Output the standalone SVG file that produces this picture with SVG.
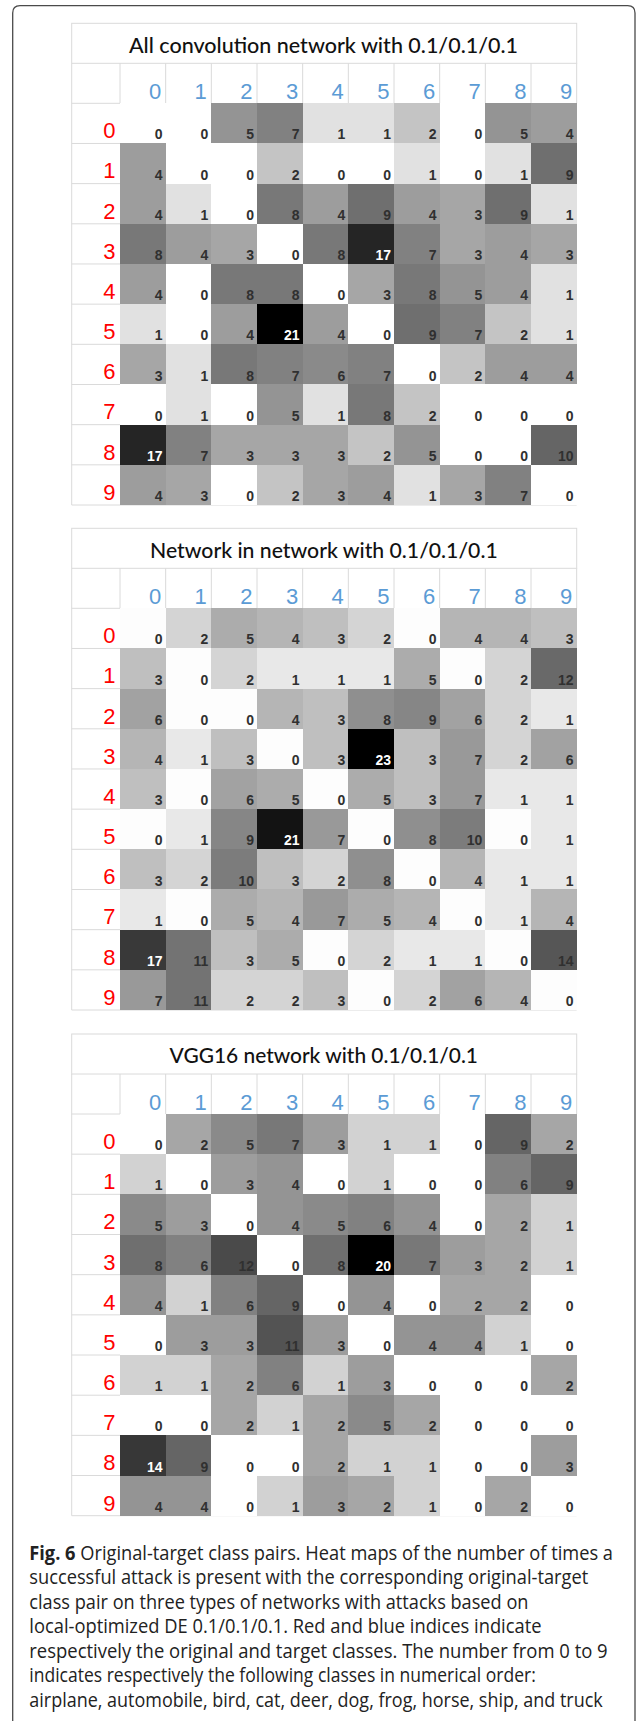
<svg xmlns="http://www.w3.org/2000/svg" width="637" height="1721" viewBox="0 0 637 1721">
<style>
.frame{fill:none;stroke:#4a4a4a;stroke-width:1.3}
.g{fill:none;stroke:#dadada;stroke-width:1}
.ttl{font-family:Lato,"Noto Sans",sans-serif;font-size:22px;font-weight:500;fill:#111}
.ch{font-family:"Liberation Sans",Arial,sans-serif;font-size:22px;fill:#5b9bd5;text-anchor:end}
.rh{font-family:"Liberation Sans",Arial,sans-serif;font-size:22px;fill:#ff0000;text-anchor:end}
.n rect{shape-rendering:crispEdges}
.n text{font-family:"Liberation Sans",Arial,sans-serif;font-size:14px;font-weight:bold;fill:#303030;text-anchor:end}
.n text.w{fill:#ffffff}
.cap{font-family:"Open Sans","Liberation Sans",sans-serif;font-size:20px;fill:#222}
.cap .b{font-weight:bold}
.t1 .v0{fill:#ffffff}.t1 .v1{fill:#e1e1e1}.t1 .v2{fill:#c4c4c4}.t1 .v3{fill:#a6a6a6}.t1 .v4{fill:#9d9d9d}.t1 .v5{fill:#949494}.t1 .v6{fill:#8a8a8a}.t1 .v7{fill:#818181}.t1 .v8{fill:#787878}.t1 .v9{fill:#6f6f6f}.t1 .v10{fill:#656565}.t1 .v17{fill:#252525}.t1 .v21{fill:#000000}
.t2 .v0{fill:#fdfdfd}.t2 .v1{fill:#e8e8e8}.t2 .v2{fill:#d4d4d4}.t2 .v3{fill:#bfbfbf}.t2 .v4{fill:#b5b5b5}.t2 .v5{fill:#acacac}.t2 .v6{fill:#a2a2a2}.t2 .v7{fill:#999999}.t2 .v8{fill:#8f8f8f}.t2 .v9{fill:#868686}.t2 .v10{fill:#7c7c7c}.t2 .v11{fill:#737373}.t2 .v12{fill:#696969}.t2 .v14{fill:#565656}.t2 .v17{fill:#393939}.t2 .v21{fill:#131313}.t2 .v23{fill:#000000}
.t3 .v0{fill:#ffffff}.t3 .v1{fill:#d2d2d2}.t3 .v2{fill:#a6a6a6}.t3 .v3{fill:#9d9d9d}.t3 .v4{fill:#949494}.t3 .v5{fill:#8a8a8a}.t3 .v6{fill:#818181}.t3 .v7{fill:#787878}.t3 .v8{fill:#6f6f6f}.t3 .v9{fill:#656565}.t3 .v11{fill:#535353}.t3 .v12{fill:#4a4a4a}.t3 .v14{fill:#373737}.t3 .v20{fill:#000000}
</style>
<rect width="637" height="1721" fill="#ffffff"/>
<path class="frame" d="M12.7 1730V13Q12.7 5.7 20 5.7H627.7Q635 5.7 635 13V1730"/>

<g id="table1" class="t1" transform="translate(0,23.3)">
<rect class="g" x="71.7" y="0" width="505" height="40"/>
<text class="ttl" x="129" y="30" textLength="389" lengthAdjust="spacingAndGlyphs">All convolution network with 0.1/0.1/0.1</text>
<path class="g" d="M71.7 40V481.7M120 40V80M165.67 40V80M211.33 40V80M257 40V80M302.67 40V80M348.33 40V80M394 40V80M439.67 40V80M485.33 40V80M531 40V80M576.67 40V80M71.7 80H120M71.7 120.17H120M71.7 160.34H120M71.7 200.51H120M71.7 240.68H120M71.7 280.85H120M71.7 321.02H120M71.7 361.19H120M71.7 401.36H120M71.7 441.53H120M71.7 481.7H576.67"/>
<g class="ch"><text x="161.2" y="75.7">0</text><text x="206.8" y="75.7">1</text><text x="252.5" y="75.7">2</text><text x="298.2" y="75.7">3</text><text x="343.8" y="75.7">4</text><text x="389.5" y="75.7">5</text><text x="435.2" y="75.7">6</text><text x="480.8" y="75.7">7</text><text x="526.5" y="75.7">8</text><text x="572.2" y="75.7">9</text></g>
<g class="rh"><text x="115.5" y="115">0</text><text x="115.5" y="155.17">1</text><text x="115.5" y="195.34">2</text><text x="115.5" y="235.51">3</text><text x="115.5" y="275.68">4</text><text x="115.5" y="315.85">5</text><text x="115.5" y="356.02">6</text><text x="115.5" y="396.19">7</text><text x="115.5" y="436.36">8</text><text x="115.5" y="476.53">9</text></g>
<g class="n">
<g transform="translate(0,80)"><rect class="v0" x="120" width="45.7" height="40.2"/><rect class="v0" x="165.67" width="45.7" height="40.2"/><rect class="v5" x="211.33" width="45.7" height="40.2"/><rect class="v7" x="257" width="45.7" height="40.2"/><rect class="v1" x="302.67" width="45.7" height="40.2"/><rect class="v1" x="348.33" width="45.7" height="40.2"/><rect class="v2" x="394" width="45.7" height="40.2"/><rect class="v0" x="439.67" width="45.7" height="40.2"/><rect class="v5" x="485.33" width="45.7" height="40.2"/><rect class="v4" x="531" width="45.7" height="40.2"/>
<text x="162.67" y="36.2">0</text><text x="208.33" y="36.2">0</text><text x="254" y="36.2">5</text><text x="299.67" y="36.2">7</text><text x="345.33" y="36.2">1</text><text x="391" y="36.2">1</text><text x="436.67" y="36.2">2</text><text x="482.33" y="36.2">0</text><text x="528" y="36.2">5</text><text x="573.67" y="36.2">4</text></g>
<g transform="translate(0,120.17)"><rect class="v4" x="120" width="45.7" height="40.2"/><rect class="v0" x="165.67" width="45.7" height="40.2"/><rect class="v0" x="211.33" width="45.7" height="40.2"/><rect class="v2" x="257" width="45.7" height="40.2"/><rect class="v0" x="302.67" width="45.7" height="40.2"/><rect class="v0" x="348.33" width="45.7" height="40.2"/><rect class="v1" x="394" width="45.7" height="40.2"/><rect class="v0" x="439.67" width="45.7" height="40.2"/><rect class="v1" x="485.33" width="45.7" height="40.2"/><rect class="v9" x="531" width="45.7" height="40.2"/>
<text x="162.67" y="36.2">4</text><text x="208.33" y="36.2">0</text><text x="254" y="36.2">0</text><text x="299.67" y="36.2">2</text><text x="345.33" y="36.2">0</text><text x="391" y="36.2">0</text><text x="436.67" y="36.2">1</text><text x="482.33" y="36.2">0</text><text x="528" y="36.2">1</text><text x="573.67" y="36.2">9</text></g>
<g transform="translate(0,160.34)"><rect class="v4" x="120" width="45.7" height="40.2"/><rect class="v1" x="165.67" width="45.7" height="40.2"/><rect class="v0" x="211.33" width="45.7" height="40.2"/><rect class="v8" x="257" width="45.7" height="40.2"/><rect class="v4" x="302.67" width="45.7" height="40.2"/><rect class="v9" x="348.33" width="45.7" height="40.2"/><rect class="v4" x="394" width="45.7" height="40.2"/><rect class="v3" x="439.67" width="45.7" height="40.2"/><rect class="v9" x="485.33" width="45.7" height="40.2"/><rect class="v1" x="531" width="45.7" height="40.2"/>
<text x="162.67" y="36.2">4</text><text x="208.33" y="36.2">1</text><text x="254" y="36.2">0</text><text x="299.67" y="36.2">8</text><text x="345.33" y="36.2">4</text><text x="391" y="36.2">9</text><text x="436.67" y="36.2">4</text><text x="482.33" y="36.2">3</text><text x="528" y="36.2">9</text><text x="573.67" y="36.2">1</text></g>
<g transform="translate(0,200.51)"><rect class="v8" x="120" width="45.7" height="40.2"/><rect class="v4" x="165.67" width="45.7" height="40.2"/><rect class="v3" x="211.33" width="45.7" height="40.2"/><rect class="v0" x="257" width="45.7" height="40.2"/><rect class="v8" x="302.67" width="45.7" height="40.2"/><rect class="v17" x="348.33" width="45.7" height="40.2"/><rect class="v7" x="394" width="45.7" height="40.2"/><rect class="v3" x="439.67" width="45.7" height="40.2"/><rect class="v4" x="485.33" width="45.7" height="40.2"/><rect class="v3" x="531" width="45.7" height="40.2"/>
<text x="162.67" y="36.2">8</text><text x="208.33" y="36.2">4</text><text x="254" y="36.2">3</text><text x="299.67" y="36.2">0</text><text x="345.33" y="36.2">8</text><text class="w" x="391" y="36.2">17</text><text x="436.67" y="36.2">7</text><text x="482.33" y="36.2">3</text><text x="528" y="36.2">4</text><text x="573.67" y="36.2">3</text></g>
<g transform="translate(0,240.68)"><rect class="v4" x="120" width="45.7" height="40.2"/><rect class="v0" x="165.67" width="45.7" height="40.2"/><rect class="v8" x="211.33" width="45.7" height="40.2"/><rect class="v8" x="257" width="45.7" height="40.2"/><rect class="v0" x="302.67" width="45.7" height="40.2"/><rect class="v3" x="348.33" width="45.7" height="40.2"/><rect class="v8" x="394" width="45.7" height="40.2"/><rect class="v5" x="439.67" width="45.7" height="40.2"/><rect class="v4" x="485.33" width="45.7" height="40.2"/><rect class="v1" x="531" width="45.7" height="40.2"/>
<text x="162.67" y="36.2">4</text><text x="208.33" y="36.2">0</text><text x="254" y="36.2">8</text><text x="299.67" y="36.2">8</text><text x="345.33" y="36.2">0</text><text x="391" y="36.2">3</text><text x="436.67" y="36.2">8</text><text x="482.33" y="36.2">5</text><text x="528" y="36.2">4</text><text x="573.67" y="36.2">1</text></g>
<g transform="translate(0,280.85)"><rect class="v1" x="120" width="45.7" height="40.2"/><rect class="v0" x="165.67" width="45.7" height="40.2"/><rect class="v4" x="211.33" width="45.7" height="40.2"/><rect class="v21" x="257" width="45.7" height="40.2"/><rect class="v4" x="302.67" width="45.7" height="40.2"/><rect class="v0" x="348.33" width="45.7" height="40.2"/><rect class="v9" x="394" width="45.7" height="40.2"/><rect class="v7" x="439.67" width="45.7" height="40.2"/><rect class="v2" x="485.33" width="45.7" height="40.2"/><rect class="v1" x="531" width="45.7" height="40.2"/>
<text x="162.67" y="36.2">1</text><text x="208.33" y="36.2">0</text><text x="254" y="36.2">4</text><text class="w" x="299.67" y="36.2">21</text><text x="345.33" y="36.2">4</text><text x="391" y="36.2">0</text><text x="436.67" y="36.2">9</text><text x="482.33" y="36.2">7</text><text x="528" y="36.2">2</text><text x="573.67" y="36.2">1</text></g>
<g transform="translate(0,321.02)"><rect class="v3" x="120" width="45.7" height="40.2"/><rect class="v1" x="165.67" width="45.7" height="40.2"/><rect class="v8" x="211.33" width="45.7" height="40.2"/><rect class="v7" x="257" width="45.7" height="40.2"/><rect class="v6" x="302.67" width="45.7" height="40.2"/><rect class="v7" x="348.33" width="45.7" height="40.2"/><rect class="v0" x="394" width="45.7" height="40.2"/><rect class="v2" x="439.67" width="45.7" height="40.2"/><rect class="v4" x="485.33" width="45.7" height="40.2"/><rect class="v4" x="531" width="45.7" height="40.2"/>
<text x="162.67" y="36.2">3</text><text x="208.33" y="36.2">1</text><text x="254" y="36.2">8</text><text x="299.67" y="36.2">7</text><text x="345.33" y="36.2">6</text><text x="391" y="36.2">7</text><text x="436.67" y="36.2">0</text><text x="482.33" y="36.2">2</text><text x="528" y="36.2">4</text><text x="573.67" y="36.2">4</text></g>
<g transform="translate(0,361.19)"><rect class="v0" x="120" width="45.7" height="40.2"/><rect class="v1" x="165.67" width="45.7" height="40.2"/><rect class="v0" x="211.33" width="45.7" height="40.2"/><rect class="v5" x="257" width="45.7" height="40.2"/><rect class="v1" x="302.67" width="45.7" height="40.2"/><rect class="v8" x="348.33" width="45.7" height="40.2"/><rect class="v2" x="394" width="45.7" height="40.2"/><rect class="v0" x="439.67" width="45.7" height="40.2"/><rect class="v0" x="485.33" width="45.7" height="40.2"/><rect class="v0" x="531" width="45.7" height="40.2"/>
<text x="162.67" y="36.2">0</text><text x="208.33" y="36.2">1</text><text x="254" y="36.2">0</text><text x="299.67" y="36.2">5</text><text x="345.33" y="36.2">1</text><text x="391" y="36.2">8</text><text x="436.67" y="36.2">2</text><text x="482.33" y="36.2">0</text><text x="528" y="36.2">0</text><text x="573.67" y="36.2">0</text></g>
<g transform="translate(0,401.36)"><rect class="v17" x="120" width="45.7" height="40.2"/><rect class="v7" x="165.67" width="45.7" height="40.2"/><rect class="v3" x="211.33" width="45.7" height="40.2"/><rect class="v3" x="257" width="45.7" height="40.2"/><rect class="v3" x="302.67" width="45.7" height="40.2"/><rect class="v2" x="348.33" width="45.7" height="40.2"/><rect class="v5" x="394" width="45.7" height="40.2"/><rect class="v0" x="439.67" width="45.7" height="40.2"/><rect class="v0" x="485.33" width="45.7" height="40.2"/><rect class="v10" x="531" width="45.7" height="40.2"/>
<text class="w" x="162.67" y="36.2">17</text><text x="208.33" y="36.2">7</text><text x="254" y="36.2">3</text><text x="299.67" y="36.2">3</text><text x="345.33" y="36.2">3</text><text x="391" y="36.2">2</text><text x="436.67" y="36.2">5</text><text x="482.33" y="36.2">0</text><text x="528" y="36.2">0</text><text x="573.67" y="36.2">10</text></g>
<g transform="translate(0,441.53)"><rect class="v4" x="120" width="45.7" height="40.2"/><rect class="v3" x="165.67" width="45.7" height="40.2"/><rect class="v0" x="211.33" width="45.7" height="40.2"/><rect class="v2" x="257" width="45.7" height="40.2"/><rect class="v3" x="302.67" width="45.7" height="40.2"/><rect class="v4" x="348.33" width="45.7" height="40.2"/><rect class="v1" x="394" width="45.7" height="40.2"/><rect class="v3" x="439.67" width="45.7" height="40.2"/><rect class="v7" x="485.33" width="45.7" height="40.2"/><rect class="v0" x="531" width="45.7" height="40.2"/>
<text x="162.67" y="36.2">4</text><text x="208.33" y="36.2">3</text><text x="254" y="36.2">0</text><text x="299.67" y="36.2">2</text><text x="345.33" y="36.2">3</text><text x="391" y="36.2">4</text><text x="436.67" y="36.2">1</text><text x="482.33" y="36.2">3</text><text x="528" y="36.2">7</text><text x="573.67" y="36.2">0</text></g>
</g>
</g>

<g id="table2" class="t2" transform="translate(0,528.3)">
<rect class="g" x="71.7" y="0" width="505" height="40"/>
<text class="ttl" x="150" y="29.3" textLength="347.7" lengthAdjust="spacingAndGlyphs">Network in network with 0.1/0.1/0.1</text>
<path class="g" d="M71.7 40V481.7M120 40V80M165.67 40V80M211.33 40V80M257 40V80M302.67 40V80M348.33 40V80M394 40V80M439.67 40V80M485.33 40V80M531 40V80M576.67 40V80M71.7 80H120M71.7 120.17H120M71.7 160.34H120M71.7 200.51H120M71.7 240.68H120M71.7 280.85H120M71.7 321.02H120M71.7 361.19H120M71.7 401.36H120M71.7 441.53H120M71.7 481.7H576.67"/>
<g class="ch"><text x="161.2" y="75.7">0</text><text x="206.8" y="75.7">1</text><text x="252.5" y="75.7">2</text><text x="298.2" y="75.7">3</text><text x="343.8" y="75.7">4</text><text x="389.5" y="75.7">5</text><text x="435.2" y="75.7">6</text><text x="480.8" y="75.7">7</text><text x="526.5" y="75.7">8</text><text x="572.2" y="75.7">9</text></g>
<g class="rh"><text x="115.5" y="115">0</text><text x="115.5" y="155.17">1</text><text x="115.5" y="195.34">2</text><text x="115.5" y="235.51">3</text><text x="115.5" y="275.68">4</text><text x="115.5" y="315.85">5</text><text x="115.5" y="356.02">6</text><text x="115.5" y="396.19">7</text><text x="115.5" y="436.36">8</text><text x="115.5" y="476.53">9</text></g>
<g class="n">
<g transform="translate(0,80)"><rect class="v0" x="120" width="45.7" height="40.2"/><rect class="v2" x="165.67" width="45.7" height="40.2"/><rect class="v5" x="211.33" width="45.7" height="40.2"/><rect class="v4" x="257" width="45.7" height="40.2"/><rect class="v3" x="302.67" width="45.7" height="40.2"/><rect class="v2" x="348.33" width="45.7" height="40.2"/><rect class="v0" x="394" width="45.7" height="40.2"/><rect class="v4" x="439.67" width="45.7" height="40.2"/><rect class="v4" x="485.33" width="45.7" height="40.2"/><rect class="v3" x="531" width="45.7" height="40.2"/>
<text x="162.67" y="36.2">0</text><text x="208.33" y="36.2">2</text><text x="254" y="36.2">5</text><text x="299.67" y="36.2">4</text><text x="345.33" y="36.2">3</text><text x="391" y="36.2">2</text><text x="436.67" y="36.2">0</text><text x="482.33" y="36.2">4</text><text x="528" y="36.2">4</text><text x="573.67" y="36.2">3</text></g>
<g transform="translate(0,120.17)"><rect class="v3" x="120" width="45.7" height="40.2"/><rect class="v0" x="165.67" width="45.7" height="40.2"/><rect class="v2" x="211.33" width="45.7" height="40.2"/><rect class="v1" x="257" width="45.7" height="40.2"/><rect class="v1" x="302.67" width="45.7" height="40.2"/><rect class="v1" x="348.33" width="45.7" height="40.2"/><rect class="v5" x="394" width="45.7" height="40.2"/><rect class="v0" x="439.67" width="45.7" height="40.2"/><rect class="v2" x="485.33" width="45.7" height="40.2"/><rect class="v12" x="531" width="45.7" height="40.2"/>
<text x="162.67" y="36.2">3</text><text x="208.33" y="36.2">0</text><text x="254" y="36.2">2</text><text x="299.67" y="36.2">1</text><text x="345.33" y="36.2">1</text><text x="391" y="36.2">1</text><text x="436.67" y="36.2">5</text><text x="482.33" y="36.2">0</text><text x="528" y="36.2">2</text><text x="573.67" y="36.2">12</text></g>
<g transform="translate(0,160.34)"><rect class="v6" x="120" width="45.7" height="40.2"/><rect class="v0" x="165.67" width="45.7" height="40.2"/><rect class="v0" x="211.33" width="45.7" height="40.2"/><rect class="v4" x="257" width="45.7" height="40.2"/><rect class="v3" x="302.67" width="45.7" height="40.2"/><rect class="v8" x="348.33" width="45.7" height="40.2"/><rect class="v9" x="394" width="45.7" height="40.2"/><rect class="v6" x="439.67" width="45.7" height="40.2"/><rect class="v2" x="485.33" width="45.7" height="40.2"/><rect class="v1" x="531" width="45.7" height="40.2"/>
<text x="162.67" y="36.2">6</text><text x="208.33" y="36.2">0</text><text x="254" y="36.2">0</text><text x="299.67" y="36.2">4</text><text x="345.33" y="36.2">3</text><text x="391" y="36.2">8</text><text x="436.67" y="36.2">9</text><text x="482.33" y="36.2">6</text><text x="528" y="36.2">2</text><text x="573.67" y="36.2">1</text></g>
<g transform="translate(0,200.51)"><rect class="v4" x="120" width="45.7" height="40.2"/><rect class="v1" x="165.67" width="45.7" height="40.2"/><rect class="v3" x="211.33" width="45.7" height="40.2"/><rect class="v0" x="257" width="45.7" height="40.2"/><rect class="v3" x="302.67" width="45.7" height="40.2"/><rect class="v23" x="348.33" width="45.7" height="40.2"/><rect class="v3" x="394" width="45.7" height="40.2"/><rect class="v7" x="439.67" width="45.7" height="40.2"/><rect class="v2" x="485.33" width="45.7" height="40.2"/><rect class="v6" x="531" width="45.7" height="40.2"/>
<text x="162.67" y="36.2">4</text><text x="208.33" y="36.2">1</text><text x="254" y="36.2">3</text><text x="299.67" y="36.2">0</text><text x="345.33" y="36.2">3</text><text class="w" x="391" y="36.2">23</text><text x="436.67" y="36.2">3</text><text x="482.33" y="36.2">7</text><text x="528" y="36.2">2</text><text x="573.67" y="36.2">6</text></g>
<g transform="translate(0,240.68)"><rect class="v3" x="120" width="45.7" height="40.2"/><rect class="v0" x="165.67" width="45.7" height="40.2"/><rect class="v6" x="211.33" width="45.7" height="40.2"/><rect class="v5" x="257" width="45.7" height="40.2"/><rect class="v0" x="302.67" width="45.7" height="40.2"/><rect class="v5" x="348.33" width="45.7" height="40.2"/><rect class="v3" x="394" width="45.7" height="40.2"/><rect class="v7" x="439.67" width="45.7" height="40.2"/><rect class="v1" x="485.33" width="45.7" height="40.2"/><rect class="v1" x="531" width="45.7" height="40.2"/>
<text x="162.67" y="36.2">3</text><text x="208.33" y="36.2">0</text><text x="254" y="36.2">6</text><text x="299.67" y="36.2">5</text><text x="345.33" y="36.2">0</text><text x="391" y="36.2">5</text><text x="436.67" y="36.2">3</text><text x="482.33" y="36.2">7</text><text x="528" y="36.2">1</text><text x="573.67" y="36.2">1</text></g>
<g transform="translate(0,280.85)"><rect class="v0" x="120" width="45.7" height="40.2"/><rect class="v1" x="165.67" width="45.7" height="40.2"/><rect class="v9" x="211.33" width="45.7" height="40.2"/><rect class="v21" x="257" width="45.7" height="40.2"/><rect class="v7" x="302.67" width="45.7" height="40.2"/><rect class="v0" x="348.33" width="45.7" height="40.2"/><rect class="v8" x="394" width="45.7" height="40.2"/><rect class="v10" x="439.67" width="45.7" height="40.2"/><rect class="v0" x="485.33" width="45.7" height="40.2"/><rect class="v1" x="531" width="45.7" height="40.2"/>
<text x="162.67" y="36.2">0</text><text x="208.33" y="36.2">1</text><text x="254" y="36.2">9</text><text class="w" x="299.67" y="36.2">21</text><text x="345.33" y="36.2">7</text><text x="391" y="36.2">0</text><text x="436.67" y="36.2">8</text><text x="482.33" y="36.2">10</text><text x="528" y="36.2">0</text><text x="573.67" y="36.2">1</text></g>
<g transform="translate(0,321.02)"><rect class="v3" x="120" width="45.7" height="40.2"/><rect class="v2" x="165.67" width="45.7" height="40.2"/><rect class="v10" x="211.33" width="45.7" height="40.2"/><rect class="v3" x="257" width="45.7" height="40.2"/><rect class="v2" x="302.67" width="45.7" height="40.2"/><rect class="v8" x="348.33" width="45.7" height="40.2"/><rect class="v0" x="394" width="45.7" height="40.2"/><rect class="v4" x="439.67" width="45.7" height="40.2"/><rect class="v1" x="485.33" width="45.7" height="40.2"/><rect class="v1" x="531" width="45.7" height="40.2"/>
<text x="162.67" y="36.2">3</text><text x="208.33" y="36.2">2</text><text x="254" y="36.2">10</text><text x="299.67" y="36.2">3</text><text x="345.33" y="36.2">2</text><text x="391" y="36.2">8</text><text x="436.67" y="36.2">0</text><text x="482.33" y="36.2">4</text><text x="528" y="36.2">1</text><text x="573.67" y="36.2">1</text></g>
<g transform="translate(0,361.19)"><rect class="v1" x="120" width="45.7" height="40.2"/><rect class="v0" x="165.67" width="45.7" height="40.2"/><rect class="v5" x="211.33" width="45.7" height="40.2"/><rect class="v4" x="257" width="45.7" height="40.2"/><rect class="v7" x="302.67" width="45.7" height="40.2"/><rect class="v5" x="348.33" width="45.7" height="40.2"/><rect class="v4" x="394" width="45.7" height="40.2"/><rect class="v0" x="439.67" width="45.7" height="40.2"/><rect class="v1" x="485.33" width="45.7" height="40.2"/><rect class="v4" x="531" width="45.7" height="40.2"/>
<text x="162.67" y="36.2">1</text><text x="208.33" y="36.2">0</text><text x="254" y="36.2">5</text><text x="299.67" y="36.2">4</text><text x="345.33" y="36.2">7</text><text x="391" y="36.2">5</text><text x="436.67" y="36.2">4</text><text x="482.33" y="36.2">0</text><text x="528" y="36.2">1</text><text x="573.67" y="36.2">4</text></g>
<g transform="translate(0,401.36)"><rect class="v17" x="120" width="45.7" height="40.2"/><rect class="v11" x="165.67" width="45.7" height="40.2"/><rect class="v3" x="211.33" width="45.7" height="40.2"/><rect class="v5" x="257" width="45.7" height="40.2"/><rect class="v0" x="302.67" width="45.7" height="40.2"/><rect class="v2" x="348.33" width="45.7" height="40.2"/><rect class="v1" x="394" width="45.7" height="40.2"/><rect class="v1" x="439.67" width="45.7" height="40.2"/><rect class="v0" x="485.33" width="45.7" height="40.2"/><rect class="v14" x="531" width="45.7" height="40.2"/>
<text class="w" x="162.67" y="36.2">17</text><text x="208.33" y="36.2">11</text><text x="254" y="36.2">3</text><text x="299.67" y="36.2">5</text><text x="345.33" y="36.2">0</text><text x="391" y="36.2">2</text><text x="436.67" y="36.2">1</text><text x="482.33" y="36.2">1</text><text x="528" y="36.2">0</text><text x="573.67" y="36.2">14</text></g>
<g transform="translate(0,441.53)"><rect class="v7" x="120" width="45.7" height="40.2"/><rect class="v11" x="165.67" width="45.7" height="40.2"/><rect class="v2" x="211.33" width="45.7" height="40.2"/><rect class="v2" x="257" width="45.7" height="40.2"/><rect class="v3" x="302.67" width="45.7" height="40.2"/><rect class="v0" x="348.33" width="45.7" height="40.2"/><rect class="v2" x="394" width="45.7" height="40.2"/><rect class="v6" x="439.67" width="45.7" height="40.2"/><rect class="v4" x="485.33" width="45.7" height="40.2"/><rect class="v0" x="531" width="45.7" height="40.2"/>
<text x="162.67" y="36.2">7</text><text x="208.33" y="36.2">11</text><text x="254" y="36.2">2</text><text x="299.67" y="36.2">2</text><text x="345.33" y="36.2">3</text><text x="391" y="36.2">0</text><text x="436.67" y="36.2">2</text><text x="482.33" y="36.2">6</text><text x="528" y="36.2">4</text><text x="573.67" y="36.2">0</text></g>
</g>
</g>

<g id="table3" class="t3" transform="translate(0,1034)">
<rect class="g" x="71.7" y="0" width="505" height="40"/>
<text class="ttl" x="169.6" y="29.3" textLength="308.4" lengthAdjust="spacingAndGlyphs">VGG16 network with 0.1/0.1/0.1</text>
<path class="g" d="M71.7 40V481.7M120 40V80M165.67 40V80M211.33 40V80M257 40V80M302.67 40V80M348.33 40V80M394 40V80M439.67 40V80M485.33 40V80M531 40V80M576.67 40V80M71.7 80H120M71.7 120.17H120M71.7 160.34H120M71.7 200.51H120M71.7 240.68H120M71.7 280.85H120M71.7 321.02H120M71.7 361.19H120M71.7 401.36H120M71.7 441.53H120M71.7 481.7H576.67"/>
<g class="ch"><text x="161.2" y="75.7">0</text><text x="206.8" y="75.7">1</text><text x="252.5" y="75.7">2</text><text x="298.2" y="75.7">3</text><text x="343.8" y="75.7">4</text><text x="389.5" y="75.7">5</text><text x="435.2" y="75.7">6</text><text x="480.8" y="75.7">7</text><text x="526.5" y="75.7">8</text><text x="572.2" y="75.7">9</text></g>
<g class="rh"><text x="115.5" y="115">0</text><text x="115.5" y="155.17">1</text><text x="115.5" y="195.34">2</text><text x="115.5" y="235.51">3</text><text x="115.5" y="275.68">4</text><text x="115.5" y="315.85">5</text><text x="115.5" y="356.02">6</text><text x="115.5" y="396.19">7</text><text x="115.5" y="436.36">8</text><text x="115.5" y="476.53">9</text></g>
<g class="n">
<g transform="translate(0,80)"><rect class="v0" x="120" width="45.7" height="40.2"/><rect class="v2" x="165.67" width="45.7" height="40.2"/><rect class="v5" x="211.33" width="45.7" height="40.2"/><rect class="v7" x="257" width="45.7" height="40.2"/><rect class="v3" x="302.67" width="45.7" height="40.2"/><rect class="v1" x="348.33" width="45.7" height="40.2"/><rect class="v1" x="394" width="45.7" height="40.2"/><rect class="v0" x="439.67" width="45.7" height="40.2"/><rect class="v9" x="485.33" width="45.7" height="40.2"/><rect class="v2" x="531" width="45.7" height="40.2"/>
<text x="162.67" y="36.2">0</text><text x="208.33" y="36.2">2</text><text x="254" y="36.2">5</text><text x="299.67" y="36.2">7</text><text x="345.33" y="36.2">3</text><text x="391" y="36.2">1</text><text x="436.67" y="36.2">1</text><text x="482.33" y="36.2">0</text><text x="528" y="36.2">9</text><text x="573.67" y="36.2">2</text></g>
<g transform="translate(0,120.17)"><rect class="v1" x="120" width="45.7" height="40.2"/><rect class="v0" x="165.67" width="45.7" height="40.2"/><rect class="v3" x="211.33" width="45.7" height="40.2"/><rect class="v4" x="257" width="45.7" height="40.2"/><rect class="v0" x="302.67" width="45.7" height="40.2"/><rect class="v1" x="348.33" width="45.7" height="40.2"/><rect class="v0" x="394" width="45.7" height="40.2"/><rect class="v0" x="439.67" width="45.7" height="40.2"/><rect class="v6" x="485.33" width="45.7" height="40.2"/><rect class="v9" x="531" width="45.7" height="40.2"/>
<text x="162.67" y="36.2">1</text><text x="208.33" y="36.2">0</text><text x="254" y="36.2">3</text><text x="299.67" y="36.2">4</text><text x="345.33" y="36.2">0</text><text x="391" y="36.2">1</text><text x="436.67" y="36.2">0</text><text x="482.33" y="36.2">0</text><text x="528" y="36.2">6</text><text x="573.67" y="36.2">9</text></g>
<g transform="translate(0,160.34)"><rect class="v5" x="120" width="45.7" height="40.2"/><rect class="v3" x="165.67" width="45.7" height="40.2"/><rect class="v0" x="211.33" width="45.7" height="40.2"/><rect class="v4" x="257" width="45.7" height="40.2"/><rect class="v5" x="302.67" width="45.7" height="40.2"/><rect class="v6" x="348.33" width="45.7" height="40.2"/><rect class="v4" x="394" width="45.7" height="40.2"/><rect class="v0" x="439.67" width="45.7" height="40.2"/><rect class="v2" x="485.33" width="45.7" height="40.2"/><rect class="v1" x="531" width="45.7" height="40.2"/>
<text x="162.67" y="36.2">5</text><text x="208.33" y="36.2">3</text><text x="254" y="36.2">0</text><text x="299.67" y="36.2">4</text><text x="345.33" y="36.2">5</text><text x="391" y="36.2">6</text><text x="436.67" y="36.2">4</text><text x="482.33" y="36.2">0</text><text x="528" y="36.2">2</text><text x="573.67" y="36.2">1</text></g>
<g transform="translate(0,200.51)"><rect class="v8" x="120" width="45.7" height="40.2"/><rect class="v6" x="165.67" width="45.7" height="40.2"/><rect class="v12" x="211.33" width="45.7" height="40.2"/><rect class="v0" x="257" width="45.7" height="40.2"/><rect class="v8" x="302.67" width="45.7" height="40.2"/><rect class="v20" x="348.33" width="45.7" height="40.2"/><rect class="v7" x="394" width="45.7" height="40.2"/><rect class="v3" x="439.67" width="45.7" height="40.2"/><rect class="v2" x="485.33" width="45.7" height="40.2"/><rect class="v1" x="531" width="45.7" height="40.2"/>
<text x="162.67" y="36.2">8</text><text x="208.33" y="36.2">6</text><text x="254" y="36.2">12</text><text x="299.67" y="36.2">0</text><text x="345.33" y="36.2">8</text><text class="w" x="391" y="36.2">20</text><text x="436.67" y="36.2">7</text><text x="482.33" y="36.2">3</text><text x="528" y="36.2">2</text><text x="573.67" y="36.2">1</text></g>
<g transform="translate(0,240.68)"><rect class="v4" x="120" width="45.7" height="40.2"/><rect class="v1" x="165.67" width="45.7" height="40.2"/><rect class="v6" x="211.33" width="45.7" height="40.2"/><rect class="v9" x="257" width="45.7" height="40.2"/><rect class="v0" x="302.67" width="45.7" height="40.2"/><rect class="v4" x="348.33" width="45.7" height="40.2"/><rect class="v0" x="394" width="45.7" height="40.2"/><rect class="v2" x="439.67" width="45.7" height="40.2"/><rect class="v2" x="485.33" width="45.7" height="40.2"/><rect class="v0" x="531" width="45.7" height="40.2"/>
<text x="162.67" y="36.2">4</text><text x="208.33" y="36.2">1</text><text x="254" y="36.2">6</text><text x="299.67" y="36.2">9</text><text x="345.33" y="36.2">0</text><text x="391" y="36.2">4</text><text x="436.67" y="36.2">0</text><text x="482.33" y="36.2">2</text><text x="528" y="36.2">2</text><text x="573.67" y="36.2">0</text></g>
<g transform="translate(0,280.85)"><rect class="v0" x="120" width="45.7" height="40.2"/><rect class="v3" x="165.67" width="45.7" height="40.2"/><rect class="v3" x="211.33" width="45.7" height="40.2"/><rect class="v11" x="257" width="45.7" height="40.2"/><rect class="v3" x="302.67" width="45.7" height="40.2"/><rect class="v0" x="348.33" width="45.7" height="40.2"/><rect class="v4" x="394" width="45.7" height="40.2"/><rect class="v4" x="439.67" width="45.7" height="40.2"/><rect class="v1" x="485.33" width="45.7" height="40.2"/><rect class="v0" x="531" width="45.7" height="40.2"/>
<text x="162.67" y="36.2">0</text><text x="208.33" y="36.2">3</text><text x="254" y="36.2">3</text><text x="299.67" y="36.2">11</text><text x="345.33" y="36.2">3</text><text x="391" y="36.2">0</text><text x="436.67" y="36.2">4</text><text x="482.33" y="36.2">4</text><text x="528" y="36.2">1</text><text x="573.67" y="36.2">0</text></g>
<g transform="translate(0,321.02)"><rect class="v1" x="120" width="45.7" height="40.2"/><rect class="v1" x="165.67" width="45.7" height="40.2"/><rect class="v2" x="211.33" width="45.7" height="40.2"/><rect class="v6" x="257" width="45.7" height="40.2"/><rect class="v1" x="302.67" width="45.7" height="40.2"/><rect class="v3" x="348.33" width="45.7" height="40.2"/><rect class="v0" x="394" width="45.7" height="40.2"/><rect class="v0" x="439.67" width="45.7" height="40.2"/><rect class="v0" x="485.33" width="45.7" height="40.2"/><rect class="v2" x="531" width="45.7" height="40.2"/>
<text x="162.67" y="36.2">1</text><text x="208.33" y="36.2">1</text><text x="254" y="36.2">2</text><text x="299.67" y="36.2">6</text><text x="345.33" y="36.2">1</text><text x="391" y="36.2">3</text><text x="436.67" y="36.2">0</text><text x="482.33" y="36.2">0</text><text x="528" y="36.2">0</text><text x="573.67" y="36.2">2</text></g>
<g transform="translate(0,361.19)"><rect class="v0" x="120" width="45.7" height="40.2"/><rect class="v0" x="165.67" width="45.7" height="40.2"/><rect class="v2" x="211.33" width="45.7" height="40.2"/><rect class="v1" x="257" width="45.7" height="40.2"/><rect class="v2" x="302.67" width="45.7" height="40.2"/><rect class="v5" x="348.33" width="45.7" height="40.2"/><rect class="v2" x="394" width="45.7" height="40.2"/><rect class="v0" x="439.67" width="45.7" height="40.2"/><rect class="v0" x="485.33" width="45.7" height="40.2"/><rect class="v0" x="531" width="45.7" height="40.2"/>
<text x="162.67" y="36.2">0</text><text x="208.33" y="36.2">0</text><text x="254" y="36.2">2</text><text x="299.67" y="36.2">1</text><text x="345.33" y="36.2">2</text><text x="391" y="36.2">5</text><text x="436.67" y="36.2">2</text><text x="482.33" y="36.2">0</text><text x="528" y="36.2">0</text><text x="573.67" y="36.2">0</text></g>
<g transform="translate(0,401.36)"><rect class="v14" x="120" width="45.7" height="40.2"/><rect class="v9" x="165.67" width="45.7" height="40.2"/><rect class="v0" x="211.33" width="45.7" height="40.2"/><rect class="v0" x="257" width="45.7" height="40.2"/><rect class="v2" x="302.67" width="45.7" height="40.2"/><rect class="v1" x="348.33" width="45.7" height="40.2"/><rect class="v1" x="394" width="45.7" height="40.2"/><rect class="v0" x="439.67" width="45.7" height="40.2"/><rect class="v0" x="485.33" width="45.7" height="40.2"/><rect class="v3" x="531" width="45.7" height="40.2"/>
<text class="w" x="162.67" y="36.2">14</text><text x="208.33" y="36.2">9</text><text x="254" y="36.2">0</text><text x="299.67" y="36.2">0</text><text x="345.33" y="36.2">2</text><text x="391" y="36.2">1</text><text x="436.67" y="36.2">1</text><text x="482.33" y="36.2">0</text><text x="528" y="36.2">0</text><text x="573.67" y="36.2">3</text></g>
<g transform="translate(0,441.53)"><rect class="v4" x="120" width="45.7" height="40.2"/><rect class="v4" x="165.67" width="45.7" height="40.2"/><rect class="v0" x="211.33" width="45.7" height="40.2"/><rect class="v1" x="257" width="45.7" height="40.2"/><rect class="v3" x="302.67" width="45.7" height="40.2"/><rect class="v2" x="348.33" width="45.7" height="40.2"/><rect class="v1" x="394" width="45.7" height="40.2"/><rect class="v0" x="439.67" width="45.7" height="40.2"/><rect class="v2" x="485.33" width="45.7" height="40.2"/><rect class="v0" x="531" width="45.7" height="40.2"/>
<text x="162.67" y="36.2">4</text><text x="208.33" y="36.2">4</text><text x="254" y="36.2">0</text><text x="299.67" y="36.2">1</text><text x="345.33" y="36.2">3</text><text x="391" y="36.2">2</text><text x="436.67" y="36.2">1</text><text x="482.33" y="36.2">0</text><text x="528" y="36.2">2</text><text x="573.67" y="36.2">0</text></g>
</g>
</g>

<g id="caption" class="cap" transform="scale(0.8,1)">
<text x="36.6" y="1560" textLength="729.6" lengthAdjust="spacingAndGlyphs"><tspan class="b">Fig. 6</tspan> Original-target class pairs. Heat maps of the number of times a</text>
<text x="36.6" y="1584.5" textLength="698.6" lengthAdjust="spacingAndGlyphs">successful attack is present with the corresponding original-target</text>
<text x="36.6" y="1608.9" textLength="624" lengthAdjust="spacingAndGlyphs">class pair on three types of networks with attacks based on</text>
<text x="36.6" y="1633.4" textLength="640.3" lengthAdjust="spacingAndGlyphs">local-optimized DE 0.1/0.1/0.1. Red and blue indices indicate</text>
<text x="36.6" y="1657.8" textLength="723" lengthAdjust="spacingAndGlyphs">respectively the original and target classes. The number from 0 to 9</text>
<text x="36.6" y="1682.3" textLength="633.1" lengthAdjust="spacingAndGlyphs">indicates respectively the following classes in numerical order:</text>
<text x="36.6" y="1706.7" textLength="716.9" lengthAdjust="spacingAndGlyphs">airplane, automobile, bird, cat, deer, dog, frog, horse, ship, and truck</text>
</g>
</svg>
